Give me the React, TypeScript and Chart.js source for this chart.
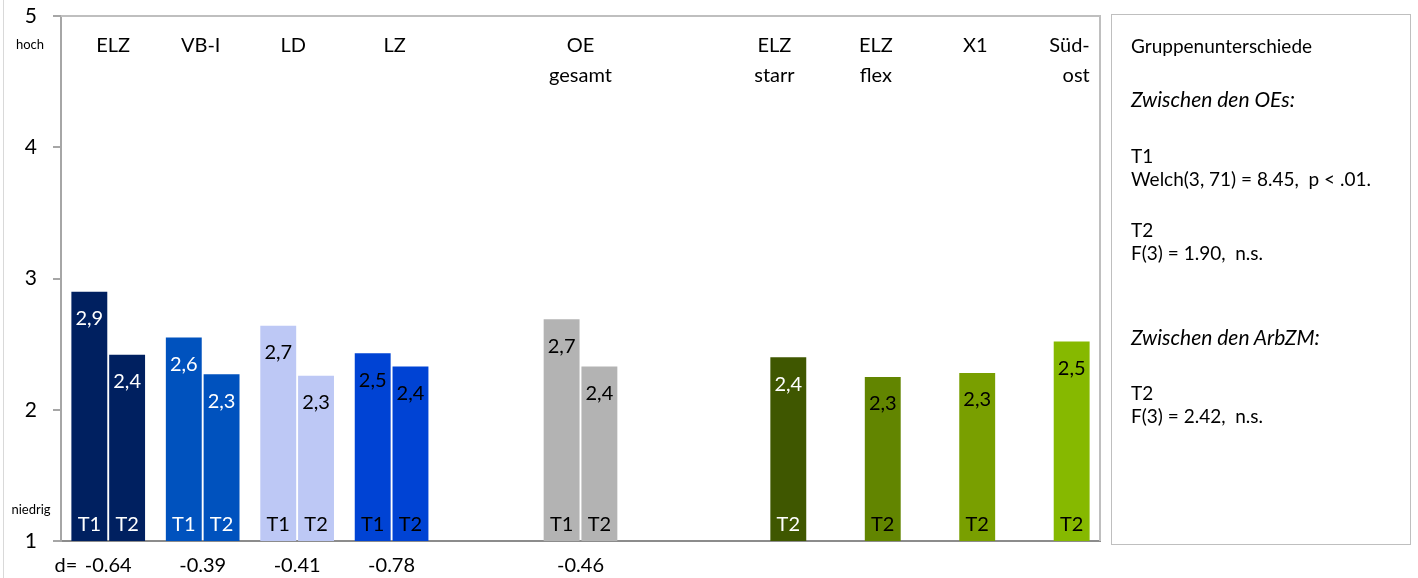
import React, { useEffect, useRef } from "react";
import { Chart, registerables } from "chart.js";

Chart.register(...registerables);

// ---- data ----
const categories = ["ELZ", "VB-I", "LD", "LZ", "", "OE gesamt", "", "ELZ starr", "ELZ flex", "X1", "Süd- ost"];
const categoryLines: string[][] = [["ELZ"], ["VB-I"], ["LD"], ["LZ"], [], ["OE", "gesamt"], [], ["ELZ", "starr"], ["ELZ", "flex"], ["X1"], ["Süd-", "ost"]];
const t1Values: (number | null)[] = [2.9, 2.55, 2.64, 2.43, null, 2.69, null, null, null, null, null];
const t2Values: (number | null)[] = [2.42, 2.27, 2.26, 2.33, null, 2.33, null, 2.4, 2.25, 2.28, 2.52];
const t1Labels = ["2,9", "2,6", "2,7", "2,5", "", "2,7", "", "", "", "", ""];
const t2Labels = ["2,4", "2,3", "2,3", "2,4", "", "2,4", "", "2,4", "2,3", "2,3", "2,5"];
const seriesNames = ["T1", "T2"];
const dValues = ["-0.64", "-0.39", "-0.41", "-0.78", "", "-0.46", "", "", "", "", ""];
const yTickValues = [1, 2, 3, 4, 5];

// ---- styles ----
const barColors = ["#002060", "#0052BE", "#BDC8F5", "#0043D4", "#FFFFFF", "#B3B3B3", "#FFFFFF", "#3F5700", "#628500", "#799F00", "#86B900"];
const textColors = ["#FFFFFF", "#FFFFFF", "#000000", "#000000", "#000000", "#000000", "#000000", "#FFFFFF", "#000000", "#000000", "#000000"];
const labelDx = [5, -2, -4, 3, 0, 0, 0, 5, 12, 17, 0];
const FONT = "Lato, 'Open Sans', sans-serif";

const panelLines = [
  { text: "Gruppenunterschiede", y: 45, size: 19, italic: false },
  { text: "Zwischen den OEs:", y: 98, size: 21, italic: true },
  { text: "T1", y: 155, size: 19, italic: false },
  { text: "Welch(3, 71) = 8.45,  p < .01.", y: 178, size: 19, italic: false },
  { text: "T2", y: 229, size: 19, italic: false },
  { text: "F(3) = 1.90,  n.s.", y: 252, size: 19, italic: false },
  { text: "Zwischen den ArbZM:", y: 336, size: 21, italic: true },
  { text: "T2", y: 392, size: 19, italic: false },
  { text: "F(3) = 2.42,  n.s.", y: 415, size: 19, italic: false },
];

const overlayPlugin = {
  id: "overlay",
  beforeDraw(chart: any) {
    const ctx = chart.ctx;
    ctx.save();
    ctx.fillStyle = "#FFFFFF";
    ctx.fillRect(0, 0, chart.width, chart.height);
    ctx.restore();
  },
  afterDraw(chart: any) {
    const ctx = chart.ctx as CanvasRenderingContext2D;
    const area = chart.chartArea;
    const xs = chart.scales.x;
    ctx.save();
    // outer frame left line
    ctx.strokeStyle = "#D9D9D9";
    ctx.lineWidth = 1;
    ctx.beginPath();
    ctx.moveTo(3.5, 0);
    ctx.lineTo(3.5, chart.height);
    ctx.stroke();
    // plot area top & right border
    ctx.strokeStyle = "#BFBFBF";
    ctx.lineWidth = 2;
    ctx.beginPath();
    ctx.moveTo(area.left, area.top);
    ctx.lineTo(area.right, area.top);
    ctx.lineTo(area.right, area.bottom);
    ctx.stroke();

    ctx.textBaseline = "middle";
    // category labels at top
    ctx.fillStyle = "#000000";
    ctx.font = `20px ${FONT}`;
    categoryLines.forEach((lines, i) => {
      if (!lines.length) return;
      const cx = xs.getPixelForValue(i);
      const right = i === categoryLines.length - 1;
      ctx.textAlign = right ? "right" : "center";
      const x = right ? cx + 37 : cx + labelDx[i];
      lines.forEach((ln, k) => ctx.fillText(ln, x, area.top + 30 + k * 30));
    });

    // bar labels
    const labelSets = [t1Labels, t2Labels];
    chart.data.datasets.forEach((ds: any, di: number) => {
      const meta = chart.getDatasetMeta(di);
      meta.data.forEach((bar: any, i: number) => {
        if (ds.data[i] == null) return;
        ctx.fillStyle = textColors[i];
        ctx.textAlign = "center";
        ctx.font = `20px ${FONT}`;
        ctx.fillText(labelSets[di][i], bar.x, bar.y + 27);
        ctx.fillText(seriesNames[di], bar.x, area.bottom - 16);
      });
    });

    // effect sizes below
    ctx.fillStyle = "#000000";
    ctx.font = `20px ${FONT}`;
    ctx.textAlign = "center";
    dValues.forEach((d, i) => {
      if (!d) return;
      ctx.fillText(d, xs.getPixelForValue(i), area.bottom + 25);
    });
    ctx.textAlign = "right";
    ctx.fillText("d=", xs.getPixelForValue(0) - 31, area.bottom + 25);

    // hoch / niedrig
    ctx.textAlign = "center";
    ctx.font = `13px ${FONT}`;
    ctx.fillText("hoch", 30, 45);
    ctx.fillText("niedrig", 31, 510);
    ctx.restore();
  },
};

export default function App() {
  const ref = useRef<HTMLCanvasElement | null>(null);
  useEffect(() => {
    let chart: Chart | null = null;
    let cancelled = false;
    const make = () => {
      if (cancelled || !ref.current) return;
      chart = new Chart(ref.current, {
        type: "bar",
        data: {
          labels: categories,
          datasets: [
            { label: seriesNames[0], data: t1Values, backgroundColor: barColors, borderWidth: 0 },
            { label: seriesNames[1], data: t2Values, backgroundColor: barColors, borderWidth: 0 },
          ],
        },
        options: {
          responsive: false,
          animation: false,
          devicePixelRatio: 1,
          layout: { padding: { left: 0, top: 16, right: 318, bottom: 29 } },
          datasets: { bar: { categoryPercentage: 0.8, barPercentage: 0.95 } },
          plugins: { legend: { display: false }, tooltip: { enabled: false }, title: { display: false } },
          scales: {
            x: {
              ticks: { display: false },
              grid: { display: false },
              border: { display: true, color: "#8C8C8C", width: 2 },
            },
            y: {
              min: 1,
              max: 5,
              afterBuildTicks: (s: any) => {
                s.ticks = yTickValues.map((v) => ({ value: v }));
              },
              afterFit: (s: any) => {
                s.width = 61;
                s.paddingTop = 0;
                s.paddingBottom = 0;
              },
              ticks: { font: { family: FONT, size: 21 }, color: "#000000", padding: 16 },
              grid: { drawOnChartArea: false, drawTicks: true, tickLength: 8, color: "#A6A6A6", lineWidth: 2 },
              border: { display: true, color: "#A6A6A6", width: 2 },
            },
          },
        },
        plugins: [overlayPlugin],
      } as any);
    };
    const fonts = (document as any).fonts;
    if (fonts && fonts.load) {
      Promise.all([fonts.load(`20px Lato`), fonts.load(`italic 19px Lato`)]).then(make, make);
    } else make();
    return () => {
      cancelled = true;
      if (chart) chart.destroy();
    };
  }, []);

  return (
    <div style={{ position: "fixed", left: 0, top: 0, width: 1418, height: 578, background: "#fff", overflow: "hidden" }}>
      <canvas ref={ref} width={1418} height={578} style={{ position: "absolute", left: 0, top: 0, width: 1418, height: 578 }} />
      <div
        style={{
          position: "absolute",
          left: 1111,
          top: 14,
          width: 300,
          height: 531,
          border: "1px solid #BFBFBF",
          boxSizing: "border-box",
          fontFamily: FONT,
          color: "#000",
        }}
      >
        {panelLines.map((l, i) => (
          <div
            key={i}
            style={{
              position: "absolute",
              left: 19,
              top: l.y - 14 - 14,
              height: 28,
              lineHeight: "28px",
              fontSize: l.size,
              fontStyle: l.italic ? "italic" : "normal",
              whiteSpace: "pre",
            }}
          >
            {l.text}
          </div>
        ))}
      </div>
    </div>
  );
}
